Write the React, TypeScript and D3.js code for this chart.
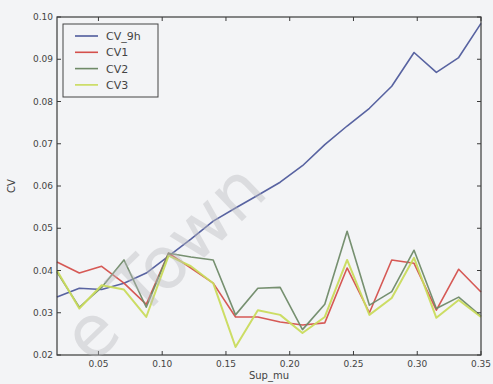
import * as d3 from 'd3';

// x positions (Sup_mu)
const supMu = [
  0.0175, 0.035, 0.0525, 0.07, 0.0875, 0.105, 0.1225, 0.14, 0.1575, 0.175,
  0.1925, 0.21, 0.2275, 0.245, 0.2625, 0.28, 0.2975, 0.315, 0.3325, 0.35,
];

const cv9h = [
  0.0337, 0.0358, 0.0355, 0.037, 0.0394, 0.0434, 0.0474, 0.0517, 0.0548, 0.0578,
  0.0609, 0.0648, 0.0698, 0.0742, 0.0784, 0.0836, 0.0916, 0.0869, 0.0904, 0.0985,
];
const cv1 = [
  0.042, 0.0394, 0.041, 0.037, 0.032, 0.0441, 0.0406, 0.037, 0.029, 0.029,
  0.0278, 0.0271, 0.0276, 0.0406, 0.03, 0.0425, 0.0417, 0.0306, 0.0403, 0.0349,
];
const cv2 = [
  0.0396, 0.0313, 0.036, 0.0425, 0.0313, 0.0441, 0.0432, 0.0425, 0.0295, 0.0358,
  0.036, 0.026, 0.032, 0.0493, 0.0318, 0.035, 0.0448, 0.031, 0.0337, 0.0292,
];
const cv3 = [
  0.04, 0.031, 0.0365, 0.0355, 0.029, 0.0435, 0.041, 0.037, 0.0219, 0.0306,
  0.0295, 0.0252, 0.029, 0.0425, 0.0295, 0.0335, 0.043, 0.0288, 0.033, 0.029,
];

const seriesNames = ['CV_9h', 'CV1', 'CV2', 'CV3'];
const seriesColors = ['#4f5b9c', '#d4504c', '#6f8a68', '#c9db5c'];
const seriesValues = [cv9h, cv1, cv2, cv3];

const xTicks = [0.05, 0.1, 0.15, 0.2, 0.25, 0.3, 0.35];
const yTicks = [0.02, 0.03, 0.04, 0.05, 0.06, 0.07, 0.08, 0.09, 0.1];

const W = 493;
const H = 384;
const left = 57;
const right = 481;
const top = 17;
const bottom = 355;

export default function App() {
  const x = d3.scaleLinear().domain([0.0175, 0.35]).range([left, right]);
  const y = d3.scaleLinear().domain([0.02, 0.1]).range([bottom, top]);
  const fmt = d3.format('.2f');

  const line = d3
    .line<number>()
    .x((_, i) => x(supMu[i]))
    .y((d) => y(d));

  const font = "'DejaVu Sans', sans-serif";

  return (
    <svg
      width={W}
      height={H}
      style={{ position: 'absolute', left: 0, top: 0 }}
      fontFamily={font}
    >
      <rect width={W} height={H} fill="#f3f4f6" />

      {/* lines */}
      {seriesValues.map((vals, si) => (
        <path
          key={seriesNames[si]}
          d={line(vals) || ''}
          fill="none"
          stroke={seriesColors[si]}
          strokeWidth={si === 3 ? 2 : 1.6}
          strokeLinejoin="round"
          opacity={0.95}
        />
      ))}

      {/* frame */}
      <rect
        x={left}
        y={top}
        width={right - left}
        height={bottom - top}
        fill="none"
        stroke="#3a3a3a"
        strokeWidth={1.2}
      />

      {/* x ticks */}
      {xTicks.map((t) => (
        <g key={'x' + t}>
          <line x1={x(t)} x2={x(t)} y1={bottom} y2={bottom - 4} stroke="#3a3a3a" />
          <line x1={x(t)} x2={x(t)} y1={top} y2={top + 4} stroke="#3a3a3a" />
          <text x={x(t)} y={bottom + 12} fontSize={9} fill="#444" textAnchor="middle">
            {fmt(t)}
          </text>
        </g>
      ))}

      {/* y ticks */}
      {yTicks.map((t) => (
        <g key={'y' + t}>
          <line x1={left} x2={left + 4} y1={y(t)} y2={y(t)} stroke="#3a3a3a" />
          <line x1={right} x2={right - 4} y1={y(t)} y2={y(t)} stroke="#3a3a3a" />
          <text x={left - 4} y={y(t) + 3} fontSize={9} fill="#444" textAnchor="end">
            {fmt(t)}
          </text>
        </g>
      ))}

      {/* axis labels */}
      <text x={(left + right) / 2} y={379} fontSize={10} fill="#444" textAnchor="middle">
        Sup_mu
      </text>
      <text
        transform={`translate(15,${(top + bottom) / 2}) rotate(-90)`}
        fontSize={10}
        fill="#444"
        textAnchor="middle"
      >
        CV
      </text>

      {/* legend */}
      <rect x={63} y={24} width={95} height={73} fill="#f3f4f6" stroke="#444" strokeWidth={1} />
      {seriesNames.map((name, i) => (
        <g key={'leg' + name} transform={`translate(0,${36 + i * 16.3})`}>
          <line x1={75} x2={98} y1={0} y2={0} stroke={seriesColors[i]} strokeWidth={1.6} />
          <text x={106} y={4} fontSize={11} fill="#444">
            {name}
          </text>
        </g>
      ))}

      {/* scan watermark */}
      <text
        transform="translate(92,366) rotate(-44)"
        fontSize={72}
        fill="#b9b9bd"
        opacity={0.4}
      >
        e Town
      </text>
    </svg>
  );
}
